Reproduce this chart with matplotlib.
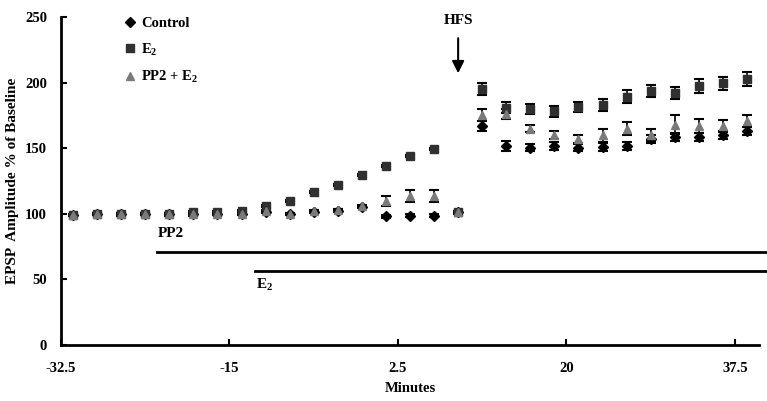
import matplotlib
matplotlib.use("Agg")
import matplotlib.pyplot as plt

plt.rcParams['font.family'] = ['Liberation Serif', 'DejaVu Serif']
plt.rcParams['font.weight'] = 'bold'
plt.rcParams['mathtext.fontset'] = 'custom'
plt.rcParams['mathtext.rm'] = 'Liberation Serif:bold'

# time points (minutes)
minutes = [-31.25, -28.75, -26.25, -23.75, -21.25, -18.75, -16.25, -13.75,
           -11.25, -8.75, -6.25, -3.75, -1.25, 1.25, 3.75, 6.25, 8.75,
           11.25, 13.75, 16.25, 18.75, 21.25, 23.75, 26.25, 28.75,
           31.25, 33.75, 36.25, 38.75]

control = [99, 100, 99.5, 100, 99.5, 99.5, 100, 100, 101.5, 100, 101.5, 102.5, 105,
           98, 98.5, 98.5, 101,
           167, 152, 150.5, 152, 150.5, 151, 152, 157, 158.8, 158.3, 160.3, 163.3]
control_err = [0.8] * 13 + [1, 1, 1, 0.8] + \
              [3.8, 3.8, 3, 3, 3, 3, 3, 3, 3, 3, 3, 3]

e2 = [99, 100, 99.5, 100, 100, 101, 101.5, 102, 105.7, 109.8, 116.4, 122,
      129.6, 136.6, 144.2, 149.2, 101.5,
      195.2, 181, 179.8, 178, 181.4, 183.2, 189.3, 193.9, 191.9, 197.4, 199.4, 202.7]
e2_err = [0.8] * 17 + \
         [4.5, 4, 4, 4, 3.5, 4.6, 4.7, 4.5, 4.5, 5, 5, 5]

pp2_e2 = [99, 100, 99.5, 100, 99.5, 99.5, 100, 100, 101.8, 100, 101.8, 103,
          106, 109.7, 113.5, 113.5, 101.5,
          175.3, 176, 165, 160.3, 157, 159.8, 165, 160.4, 168, 166.9, 166.9, 170.5]
pp2_e2_err = [0.8] * 13 + [3.5, 4.5, 4.5, 0.8] + \
             [4.3, 3.5, 3, 3, 2.8, 4.8, 5, 4.6, 7, 5, 4.3, 4.6]

fig = plt.figure(figsize=(7.67, 4.01), dpi=100)
ax = fig.add_axes([61 / 767, 1 - 345 / 401, (759 - 61) / 767, (345 - 17) / 401])

# error bars
for vals, errs in [(control, control_err), (e2, e2_err), (pp2_e2, pp2_e2_err)]:
    ax.errorbar(minutes, vals, yerr=errs, fmt='none', ecolor='black',
                elinewidth=1.2, capsize=3.5, capthick=1.5, zorder=2)

# markers
ax.plot(minutes, control, 'D', color='black', ms=5, ls='none', zorder=3,
        label='Control')
ax.plot(minutes, e2, 's', color='#303030', ms=5.5, ls='none', zorder=4,
        label='E$_\\mathregular{2}$')
ax.plot(minutes, pp2_e2, '^', color='#7a7a7a', ms=6, ls='none', zorder=5,
        label='PP2 + E$_\\mathregular{2}$')

ax.set_xlim(-32.5, 40)
ax.set_ylim(0, 250)
ax.set_xticks([-32.5, -15, 2.5, 20, 37.5])
ax.set_xticklabels(['-32.5', '-15', '2.5', '20', '37.5'])
ax.set_yticks([0, 50, 100, 150, 200, 250])
ax.tick_params(direction='in', length=4, width=1.5, labelsize=10.5)
ax.tick_params(axis='x', pad=12)
ax.tick_params(axis='y', pad=10)
for lab in ax.get_xticklabels() + ax.get_yticklabels():
    lab.set_fontweight('bold')

ax.spines['top'].set_visible(False)
ax.spines['right'].set_visible(False)
ax.spines['left'].set_linewidth(2)
ax.spines['bottom'].set_linewidth(2)

fig.text(410 / 767, 1 - 389 / 401, 'Minutes', ha='center', va='center',
         fontsize=10.5, fontweight='bold')
fig.text(13 / 767, 1 - 181 / 401, 'EPSP  Amplitude % of Baseline', ha='center',
         va='center', rotation=90, fontsize=11, fontweight='bold')

# HFS arrow
ax.annotate('', xy=(8.75, 205), xytext=(8.75, 236),
            arrowprops=dict(arrowstyle='-|>', color='black', lw=1.5,
                            mutation_scale=18))
ax.text(8.75, 247, 'HFS', ha='center', va='center', fontsize=11,
        fontweight='bold')

# drug application bars
ax.plot([-22.5, 41], [71, 71], color='black', lw=2, clip_on=False)
ax.text(-22.4, 80, 'PP2', ha='left', va='bottom', fontsize=11,
        fontweight='bold')
ax.plot([-12.3, 41], [56.7, 56.7], color='black', lw=2, clip_on=False)
ax.text(-12.2, 52, 'E$_\\mathregular{2}$', ha='left', va='top', fontsize=11,
        fontweight='bold')

leg = ax.legend(loc='upper left', bbox_to_anchor=(118 / 767, 1 - 11 / 401),
                bbox_transform=fig.transFigure, frameon=False, fontsize=10.5,
                handlelength=0.8, handletextpad=0.4, labelspacing=0.75,
                borderaxespad=0)
for t in leg.get_texts():
    t.set_fontweight('bold')

fig.savefig('out.png', dpi=100)
